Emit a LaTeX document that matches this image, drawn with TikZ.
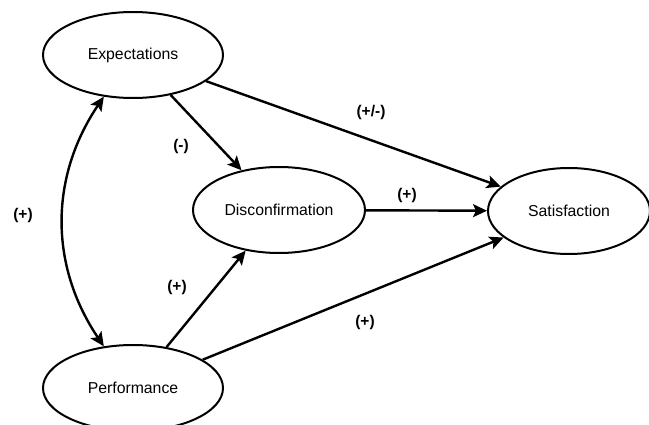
\documentclass[tikz,border=0pt]{standalone}
\usepackage{fontspec}
\setmainfont{Liberation Sans}
\usetikzlibrary{shapes.geometric,arrows.meta}
\begin{document}
\begin{tikzpicture}[x=1pt,y=1pt,
  latent/.style={draw,ellipse,line width=2pt,inner sep=0pt,font=\fontsize{15.8}{18}\selectfont},
  conn/.style={line width=2.4pt,-{Stealth[length=14pt,width=13pt,inset=3pt]}},
  lbl/.style={font=\bfseries\fontsize{15.5}{18}\selectfont}]
\useasboundingbox (0,0) rectangle (649,424);
\node[latent,minimum width=180pt,minimum height=86pt] (exp) at (133,369) {Expectations};
\node[latent,minimum width=180pt,minimum height=86pt] (perf) at (133,36) {Performance};
\node[latent,minimum width=172pt,minimum height=86pt] (disc) at (279,214) {Disconfirmation};
\node[latent,minimum width=162pt,minimum height=86pt] (sat) at (569,213) {Satisfaction};
\draw[conn] (exp) -- (disc);
\draw[conn] (exp) -- (sat);
\draw[conn] (disc) -- (sat);
\draw[conn] (perf) -- (disc);
\draw[conn] (perf) -- (sat);
\draw[line width=2.4pt,{Stealth[length=14pt,width=13pt,inset=3pt]}-{Stealth[length=14pt,width=13pt,inset=3pt]}] (exp.235) to[bend right=34] (perf.125);
\node[lbl] (l1) at (23,209) {(+)};
\node[lbl] (l2) at (181,278) {(-)};
\node[lbl] (l3) at (177,137) {(+)};
\node[lbl] (l4) at (371,312) {(+/-)};
\node[lbl] (l5) at (407,229) {(+)};
\node[lbl] (l6) at (365,102) {(+)};
\end{tikzpicture}
\end{document}
